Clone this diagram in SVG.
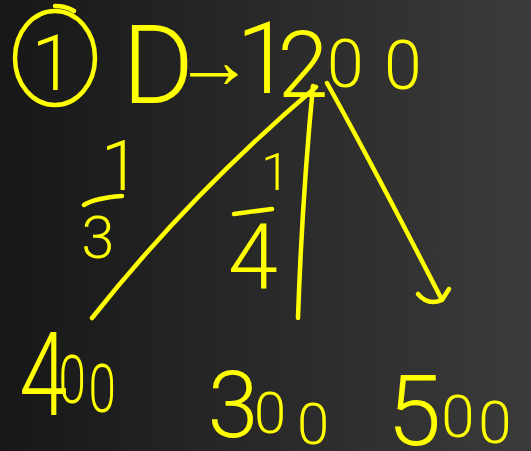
<svg xmlns="http://www.w3.org/2000/svg" width="531" height="451" viewBox="0 0 531 451">
<defs>
<linearGradient id="bg" x1="0" y1="0" x2="1" y2="0">
<stop offset="0" stop-color="#171717"/>
<stop offset="1" stop-color="#3b3b3b"/>
</linearGradient>
</defs>
<style>
text{font-family:Roboto,"Liberation Sans",sans-serif;font-weight:300;fill:#ffff00}
.ln{fill:none;stroke:#ffff00;stroke-width:4.5;stroke-linecap:round;stroke-linejoin:round}
</style>
<rect width="531" height="451" fill="url(#bg)"/>
<g id="node-root">
<ellipse class="ln" cx="55" cy="58" rx="40" ry="47"/>
<path class="ln" d="M55 6 Q66 6 74 11"/>
<text x="53" y="90" font-size="78" text-anchor="middle">1</text>
<text><tspan x="122" y="103" font-size="110">D</tspan><tspan x="174" y="88" font-size="80">→</tspan><tspan x="236" y="93" font-size="100">1</tspan><tspan x="277.5" y="97" font-size="92">2</tspan><tspan x="327" y="87" font-size="66">0</tspan><tspan x="384" y="89" font-size="68">0</tspan></text>
</g>
<g id="connectors">
<path class="ln" d="M92 318 Q192 192 316 87"/>
<path class="ln" d="M313 86 Q302 200 298 318"/>
<path class="ln" d="M327 83 Q370 160 441 298"/>
<path class="ln" d="M418 294 Q428 306 442 300 L449 289"/>
</g>
<g id="label-third">
<text x="101" y="190" font-size="70">1</text>
<path class="ln" d="M84 205 Q95 198 122 196"/>
<text x="98" y="258" font-size="60" text-anchor="middle">3</text>
</g>
<g id="label-quarter">
<text x="261" y="190" font-size="52">1</text>
<path class="ln" d="M234 214 L272 209"/>
<text x="253" y="288" font-size="90" text-anchor="middle">4</text>
</g>
<g id="node-400">
<text transform="scale(0.75,1)"><tspan x="25.8" y="415" font-size="116">4</tspan><tspan x="78.1" y="403" font-size="66">0</tspan><tspan x="118" y="412" font-size="66">0</tspan></text>
</g>
<g id="node-300">
<text><tspan x="207.5" y="437" font-size="92">3</tspan><tspan x="254" y="433" font-size="58">0</tspan><tspan x="297" y="444" font-size="58">0</tspan></text>
</g>
<g id="node-500">
<text><tspan x="387" y="445" font-size="98">5</tspan><tspan x="441.3" y="437" font-size="60">0</tspan><tspan x="478.3" y="443" font-size="60">0</tspan></text>
</g>
</svg>
